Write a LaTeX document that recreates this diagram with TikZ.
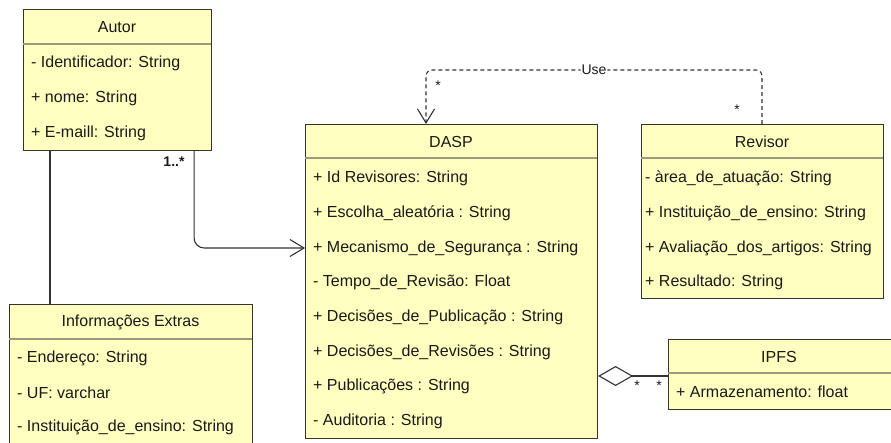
\documentclass[tikz,border=0pt]{standalone}
\usepackage{fontspec}
\setmainfont{Liberation Sans}
\usetikzlibrary{arrows.meta}
\definecolor{classfill}{HTML}{FFFFC0}
\definecolor{edge}{HTML}{333333}
\definecolor{divider}{HTML}{9A9A7E}
\begin{document}
\begin{tikzpicture}[x=1pt,y=-1pt,
  box/.style={draw=edge, line width=1.1pt, fill=classfill, inner sep=0pt, anchor=north west},
  divline/.style={draw=divider, line width=1.1pt},
  title/.style={inner sep=0pt, font=\fontsize{16}{19}\selectfont, text=black!90},
  attr/.style={anchor=west, inner sep=0pt, font=\fontsize{16}{19}\selectfont, text=black!90},
  link/.style={draw=edge, line width=1.1pt},
  openhead/.style={-{Straight Barb[length=14pt,width=17pt,line width=1.1pt]}},
  mult/.style={inner sep=0pt, font=\fontsize{14}{16}\selectfont, text=black!90},
]
\useasboundingbox (0,0) rectangle (891,442);

% ---- Autor ----
\node[box, minimum width=188pt, minimum height=141pt] (autor) at (23,9) {};
\draw[divline] (23,44) -- (211,44);
\node[title] (autorT) at (117,27) {Autor};
\node[attr] (autorA1) at (31,63) {- Identificador: String};
\node[attr] (autorA2) at (31,98) {+ nome: String};
\node[attr] (autorA3) at (31,133) {+ E-maill: String};

% ---- Informações Extras ----
\node[box, minimum width=243pt, minimum height=170pt] (info) at (9,304) {};
\draw[divline] (9,339) -- (252,339);
\node[title] (infoT) at (130.5,322) {Informações Extras};
\node[attr] (infoA1) at (17,358) {- Endereço: String};
\node[attr] (infoA2) at (17,393) {- UF: varchar};
\node[attr] (infoA3) at (17,427) {- Instituição\_de\_ensino: String};

% ---- DASP ----
\node[box, minimum width=292pt, minimum height=314pt] (dasp) at (305,124) {};
\draw[divline] (305,158) -- (597,158);
\node[title] (daspT) at (451,142) {DASP};
\node[attr] (daspA1) at (313,178) {+ Id Revisores: String};
\node[attr] (daspA2) at (313,213) {+ Escolha\_aleatória : String};
\node[attr] (daspA3) at (313,248) {+ Mecanismo\_de\_Segurança : String};
\node[attr] (daspA4) at (313,282) {- Tempo\_de\_Revisão: Float};
\node[attr] (daspA5) at (313,317) {+ Decisões\_de\_Publicação : String};
\node[attr] (daspA6) at (313,352) {+ Decisões\_de\_Revisões : String};
\node[attr] (daspA7) at (313,386) {+ Publicações : String};
\node[attr] (daspA8) at (313,421) {- Auditoria : String};

% ---- Revisor ----
\node[box, minimum width=242pt, minimum height=174pt] (revisor) at (641,124) {};
\draw[divline] (641,158) -- (883,158);
\node[title] (revisorT) at (762,142) {Revisor};
\node[attr] (revA1) at (645,178) {- àrea\_de\_atuação: String};
\node[attr] (revA2) at (645,213) {+ Instituição\_de\_ensino: String};
\node[attr] (revA3) at (645,248) {+ Avaliação\_dos\_artigos: String};
\node[attr] (revA4) at (645,282) {+ Resultado: String};

% ---- IPFS ----
\node[box, minimum width=232pt, minimum height=70pt] (ipfs) at (668,339) {};
\draw[divline] (668,373) -- (900,373);
\node[title] (ipfsT) at (779,357) {IPFS};
\node[attr] (ipfsA1) at (676,392) {+ Armazenamento: float};

% ---- relations ----
% Autor -- Informações Extras
\draw[link] ([xshift=27pt]autor.south west) -- ([xshift=41pt]info.north west);

% Autor -> DASP
\draw[link, openhead, rounded corners=10pt]
  ([xshift=-18pt]autor.south east) |- ([yshift=-124pt]dasp.north west);
\node[inner sep=0pt, font=\bfseries\fontsize{14}{16}\selectfont, text=black!90] (m1) at (174,162) {1..*};

% Revisor uses DASP
\draw[link, openhead, dash pattern=on 4pt off 3pt, rounded corners=6pt]
  ([xshift=121pt]revisor.north west) -- ++(0,-54)
  -| ([xshift=121pt]dasp.north west)
  node[pos=0.25, fill=white, inner xsep=1pt, inner ysep=0pt, font=\fontsize{14}{16}\selectfont, text=black!90] (uselbl) {Use};
\node[mult] (m2) at (438,86) {*};
\node[mult] (m3) at (737,110) {*};

% DASP <>-- IPFS
\draw[link, {Diamond[open,length=35pt,width=20pt,line width=1.1pt]}-]
  ([yshift=-252pt]dasp.north east) -- ([yshift=-37pt]ipfs.north west);
\node[mult] (m4) at (637,386) {*};
\node[mult] (m5) at (659,386) {*};
\end{tikzpicture}
\end{document}
